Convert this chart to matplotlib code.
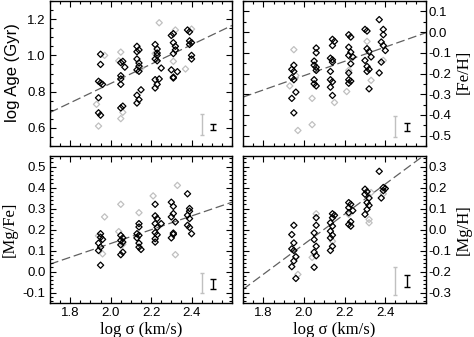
import numpy as np
import matplotlib
matplotlib.use('Agg')
import matplotlib.pyplot as plt
from matplotlib.ticker import MultipleLocator

plt.rcParams['font.family'] = 'Liberation Sans'
plt.rcParams['axes.unicode_minus'] = False

# ---- data: (log sigma, value) ----
age_blk_x = [1.95, 1.95, 1.94, 1.95, 1.96, 1.94, 1.94, 1.95,
             2.06, 2.05, 2.07, 2.05, 2.05, 2.05, 2.06, 2.05,
             2.13, 2.14, 2.13, 2.13, 2.14, 2.14, 2.13, 2.14, 2.13, 2.14, 2.15, 2.13,
             2.22, 2.23, 2.23, 2.23, 2.22, 2.23, 2.25, 2.22, 2.24, 2.23, 2.22,
             2.31, 2.30, 2.31, 2.32, 2.32, 2.31, 2.30, 2.33, 2.31, 2.31,
             2.38, 2.39, 2.39, 2.40, 2.39, 2.40, 2.40]
age_blk_y = [1.006, 0.95, 0.857, 0.848, 0.84, 0.766, 0.683, 0.67,
             0.967, 0.96, 0.935, 0.888, 0.87, 0.84, 0.72, 0.71,
             1.05, 1.03, 1.02, 0.98, 0.958, 0.94, 0.92, 0.912, 0.78, 0.756, 0.81, 0.737,
             1.06, 1.035, 1.013, 1.0, 0.98, 0.97, 0.93, 0.866, 0.87, 0.84, 0.82,
             1.12, 1.11, 1.07, 1.05, 1.03, 1.01, 0.92, 0.91, 0.88, 0.875,
             1.14, 1.13, 1.08, 1.07, 1.06, 1.0, 0.98]
age_gry_x = [1.97, 1.93, 1.94, 2.05, 2.04, 2.06, 2.05, 2.15, 2.24, 2.22, 2.32, 2.31, 2.40, 2.37]
age_gry_y = [1.0, 0.73, 0.61, 1.018, 0.97, 0.686, 0.651, 0.93, 1.18, 1.01, 1.14, 0.967, 1.145, 0.925]

feh_blk_x = [1.95, 1.94, 1.95, 1.94, 1.95, 1.96, 1.94, 1.95,
             2.06, 2.06, 2.05, 2.05, 2.06, 2.06, 2.05, 2.05, 2.06,
             2.14, 2.15, 2.14, 2.13, 2.14, 2.14, 2.13, 2.13, 2.14, 2.13, 2.14,
             2.22, 2.23, 2.22, 2.23, 2.22, 2.24, 2.23, 2.22, 2.22, 2.23, 2.22,
             2.30, 2.31, 2.31, 2.32, 2.33, 2.30, 2.31, 2.32, 2.31, 2.32,
             2.37, 2.39, 2.39, 2.38, 2.39, 2.40, 2.38, 2.37]
feh_blk_y = [-0.16, -0.18, -0.19, -0.22, -0.23, -0.29, -0.32, -0.39,
             -0.077, -0.10, -0.14, -0.16, -0.17, -0.185, -0.23, -0.25, -0.26,
             -0.035, -0.045, -0.065, -0.126, -0.134, -0.145, -0.19, -0.23, -0.24, -0.266, -0.306,
             -0.013, -0.024, -0.073, -0.097, -0.113, -0.12, -0.153, -0.197, -0.23, -0.237, -0.247,
             0.013, 0.005, -0.08, -0.094, -0.12, -0.137, -0.166, -0.18, -0.19, -0.274,
             0.06, 0.013, -0.013, -0.048, -0.065, -0.089, -0.145, -0.197]
feh_gry_x = [1.95, 1.96, 1.93, 1.97, 2.04, 2.04, 2.15, 2.22, 2.21, 2.31, 2.33, 2.39]
feh_gry_y = [-0.085, -0.21, -0.26, -0.475, -0.32, -0.447, -0.34, -0.185, -0.287, -0.045, -0.233, -0.137]

mgfe_blk_x = [1.95, 1.95, 1.96, 1.94, 1.95, 1.94, 1.95,
              2.05, 2.06, 2.05, 2.06, 2.05, 2.06, 2.05,
              2.14, 2.14, 2.13, 2.14, 2.13, 2.14, 2.14, 2.15,
              2.22, 2.22, 2.23, 2.22, 2.23, 2.22, 2.23, 2.22, 2.22, 2.25,
              2.30, 2.31, 2.31, 2.30, 2.32, 2.31, 2.31, 2.30,
              2.38, 2.39, 2.39, 2.38, 2.39, 2.38, 2.39, 2.40]
mgfe_blk_y = [0.18, 0.163, 0.153, 0.135, 0.116, 0.10, 0.03,
              0.172, 0.16, 0.148, 0.14, 0.127, 0.092, 0.08,
              0.228, 0.212, 0.18, 0.172, 0.16, 0.135, 0.116, 0.105,
              0.32, 0.265, 0.252, 0.228, 0.21, 0.185, 0.175, 0.156, 0.14, 0.228,
              0.33, 0.31, 0.276, 0.26, 0.236, 0.183, 0.177, 0.16,
              0.37, 0.30, 0.287, 0.268, 0.252, 0.22, 0.21, 0.18]
mgfe_gry_x = [1.97, 1.94, 1.96, 2.05, 2.04, 2.06, 2.14, 2.21, 2.33, 2.32]
mgfe_gry_y = [0.26, 0.17, 0.084, 0.32, 0.19, 0.13, 0.28, 0.36, 0.41, 0.08]

mgh_blk_x = [1.95, 1.94, 1.95, 1.94, 1.95, 1.96, 1.95, 1.94, 1.96,
             2.06, 2.06, 2.05, 2.05, 2.06, 2.05, 2.06, 2.05,
             2.14, 2.15, 2.14, 2.13, 2.14, 2.13, 2.14, 2.13, 2.14, 2.13,
             2.22, 2.23, 2.22, 2.24, 2.22, 2.23, 2.22, 2.23,
             2.30, 2.31, 2.30, 2.32, 2.31, 2.32, 2.31, 2.30,
             2.37, 2.39, 2.40, 2.39, 2.38]
mgh_blk_y = [0.02, -0.024, -0.064, -0.092, -0.10, -0.13, -0.15, -0.177, -0.233,
             0.056, 0.02, -0.016, -0.048, -0.08, -0.108, -0.125, -0.18,
             0.075, 0.068, 0.056, 0.032, 0.016, -0.008, -0.027, -0.04, -0.08, -0.10,
             0.128, 0.12, 0.104, 0.09, 0.08, 0.037, 0.024, 0.016,
             0.192, 0.18, 0.168, 0.15, 0.128, 0.115, 0.096, 0.072,
             0.277, 0.20, 0.195, 0.185, 0.15]
mgh_gry_x = [1.97, 1.96, 2.06, 2.04, 2.14, 2.22, 2.33, 2.32, 2.32, 2.39]
mgh_gry_y = [-0.214, -0.13, 0.075, -0.133, -0.056, 0.072, 0.176, 0.032, 0.048, 0.17]

# dashed fit lines: values at log sigma = 1.7 and 2.6
fit_x = [1.7, 2.6]
age_fit = [0.685, 1.165]
feh_fit = [-0.314, -0.003]
mgfe_fit = [0.035, 0.33]
mgh_fit = [-0.285, 0.36]

# typical error bars: (centre, half length) for gray and black
age_err = [(0.616, 0.058), (0.605, 0.018)]
feh_err = [(-0.456, 0.05), (-0.459, 0.02)]
mgfe_err = [(-0.055, 0.048), (-0.06, 0.022)]
mgh_err = [(-0.245, 0.065), (-0.245, 0.028)]

x_ticks = [1.8, 2.0, 2.2, 2.4]

fig = plt.figure(figsize=(4.74, 3.37), dpi=100)
W, H = 474, 337


def px_axes(x0, y0, x1, y1):
    return fig.add_axes([x0 / W, 1 - y1 / H, (x1 - x0) / W, (y1 - y0) / H])


def px_text(x, y, s, **kw):
    fig.text(x / W, 1 - y / H, s, ha='center', va='center', **kw)


ax_tl = px_axes(50, 1, 232, 146)
ax_tr = px_axes(243, 1, 426, 146)
ax_bl = px_axes(50, 156, 232, 303)
ax_br = px_axes(243, 156, 426, 303)

panels = [
    (ax_tl, age_blk_x, age_blk_y, age_gry_x, age_gry_y, age_fit, age_err, (0.5, 1.3), 0.2, 0.05, 'left'),
    (ax_tr, feh_blk_x, feh_blk_y, feh_gry_x, feh_gry_y, feh_fit, feh_err, (-0.55, 0.15), 0.1, 0.05, 'right'),
    (ax_bl, mgfe_blk_x, mgfe_blk_y, mgfe_gry_x, mgfe_gry_y, mgfe_fit, mgfe_err, (-0.15, 0.55), 0.1, 0.02, 'left'),
    (ax_br, mgh_blk_x, mgh_blk_y, mgh_gry_x, mgh_gry_y, mgh_fit, mgh_err, (-0.35, 0.35), 0.1, 0.02, 'right'),
]

for ax, bx, by, gx, gy, fit, err, ylim, ymaj, ymin, side in panels:
    ax.plot(fit_x, fit, ls=(0, (7, 3)), color='#606060', lw=0.9, zorder=1)
    ax.scatter(gx, gy, marker='D', s=10, facecolors='none', edgecolors='#c0c0c0', linewidths=0.9, zorder=2)
    ax.scatter(bx, by, marker='D', s=10, facecolors='none', edgecolors='black', linewidths=0.9, zorder=3)
    ax.errorbar([2.45], [err[0][0]], yerr=[err[0][1]], fmt='none', ecolor='#c0c0c0', elinewidth=1.0,
                capsize=1.5, capthick=1.0)
    ax.errorbar([2.507], [err[1][0]], yerr=[err[1][1]], fmt='none', ecolor='black', elinewidth=1.0,
                capsize=2.2, capthick=1.0)
    ax.set_xlim(1.7, 2.6)
    ax.set_ylim(*ylim)
    ax.set_xticks(x_ticks)
    ax.xaxis.set_minor_locator(MultipleLocator(0.05))
    ax.yaxis.set_major_locator(MultipleLocator(ymaj))
    ax.yaxis.set_minor_locator(MultipleLocator(ymin))
    ax.tick_params(which='both', direction='in', top=True, right=True, bottom=True, left=True,
                   labelsize=9.5, width=0.8, pad=3)
    ax.tick_params(which='major', length=4.5)
    ax.tick_params(which='minor', length=2.2)
    for sp in ax.spines.values():
        sp.set_linewidth(1.0)
    if side == 'right':
        ax.tick_params(labelleft=False, labelright=True)
        ax.tick_params(axis='y', pad=2)

for ax in (ax_tl, ax_tr):
    ax.tick_params(labelbottom=False)

ax_tl.set_yticks([0.6, 0.8, 1.0, 1.2])
ax_tl.set_yticklabels(['0.6', '0.8', '1.0', '1.2'])

# axis titles placed at their pixel positions in the reference
px_text(13, 73, 'log Age (Gyr)', rotation=90, fontsize=12)
px_text(10, 229, '[Mg/Fe]', rotation=90, fontsize=12, family='Liberation Serif')
px_text(464, 72, '[Fe/H]', rotation=90, fontsize=12, family='Liberation Serif')
px_text(464, 230, '[Mg/H]', rotation=90, fontsize=12, family='Liberation Serif')
px_text(141, 330, 'log σ (km/s)', fontsize=12, family='Liberation Serif')
px_text(334, 330, 'log σ (km/s)', fontsize=12, family='Liberation Serif')

fig.savefig('out.png', dpi=100)
